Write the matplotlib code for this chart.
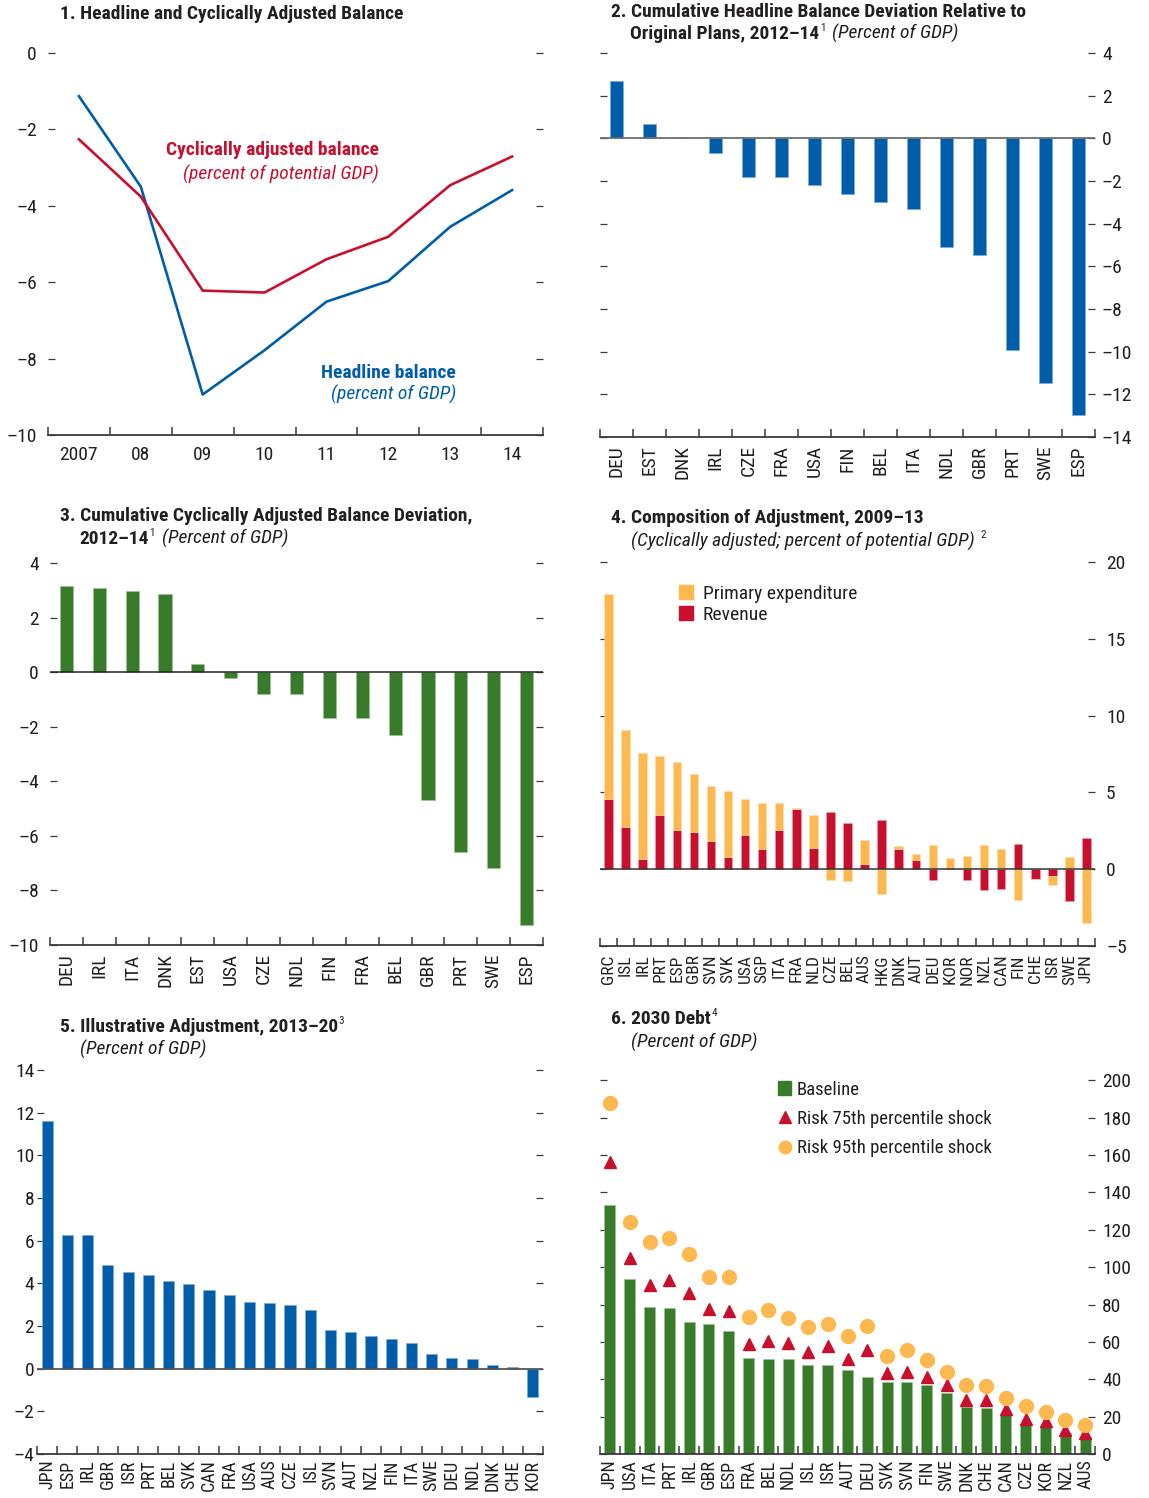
import matplotlib
matplotlib.use("Agg")
import matplotlib.pyplot as plt
import numpy as np
from matplotlib import font_manager
from matplotlib.patches import Patch
from matplotlib.lines import Line2D

# pick a narrow / condensed sans if one is installed
fonts = [(f.name, str(f.stretch)) for f in font_manager.fontManager.ttflist]
named = {n for n, s in fonts if 'Narrow' in n or 'Condensed' in n}
stretched = {n for n, s in fonts if 'condensed' in s}
family, stretch, scale = 'Liberation Sans', 'normal', 0.86
for pref in ['Liberation Sans Narrow', 'Roboto Condensed', 'Noto Sans Condensed',
             'Open Sans Condensed', 'DejaVu Sans Condensed']:
    if pref in named:
        family, scale = pref, 1.0
        break
else:
    for pref in ['Roboto', 'Noto Sans', 'Open Sans', 'DejaVu Sans']:
        if pref in stretched:
            family, stretch, scale = pref, 'condensed', 1.0
            break
    else:
        if named:
            family, scale = sorted(named)[0], 1.0

plt.rcParams['font.family'] = [family, 'DejaVu Sans']
plt.rcParams['font.stretch'] = stretch

TEXT = '#231F20'
BLUE = '#005DAA'
GREEN = '#387C2B'
RED = '#C8102E'
ORANGE = '#FDB94F'

# --- Panel 1: headline and cyclically adjusted balance ---
years = ['2007', '08', '09', '10', '11', '12', '13', '14']
headline = [-1.13, -3.50, -8.94, -7.78, -6.51, -5.97, -4.55, -3.59]
cyc_adj = [-2.26, -3.76, -6.22, -6.27, -5.40, -4.81, -3.46, -2.71]

# --- Panel 2: cumulative headline balance deviation ---
p2_countries = ['DEU', 'EST', 'DNK', 'IRL', 'CZE', 'FRA', 'USA', 'FIN', 'BEL',
                'ITA', 'NDL', 'GBR', 'PRT', 'SWE', 'ESP']
p2_values = [2.69, 0.67, 0.0, -0.70, -1.80, -1.80, -2.20, -2.59, -3.00,
             -3.31, -5.10, -5.49, -9.90, -11.49, -12.95]

# --- Panel 3: cumulative cyclically adjusted balance deviation ---
p3_countries = ['DEU', 'IRL', 'ITA', 'DNK', 'EST', 'USA', 'CZE', 'NDL', 'FIN',
                'FRA', 'BEL', 'GBR', 'PRT', 'SWE', 'ESP']
p3_values = [3.17, 3.09, 2.99, 2.88, 0.29, -0.22, -0.79, -0.79, -1.69,
             -1.69, -2.29, -4.69, -6.58, -7.17, -9.28]

# --- Panel 4: composition of adjustment ---
p4_countries = ['GRC', 'ISL', 'IRL', 'PRT', 'ESP', 'GBR', 'SVN', 'SVK', 'USA',
                'SGP', 'ITA', 'FRA', 'NLD', 'CZE', 'BEL', 'AUS', 'HKG', 'DNK',
                'AUT', 'DEU', 'KOR', 'NOR', 'NZL', 'CAN', 'FIN', 'CHE', 'ISR',
                'SWE', 'JPN']
p4_revenue = [4.59, 2.73, 0.67, 3.55, 2.58, 2.45, 1.82, 0.78, 2.23,
              1.32, 2.58, 3.95, 1.41, 3.70, 3.00, 0.32, 3.18, 1.34,
              0.63, -0.71, 0.11, -0.69, -1.36, -1.26, 1.65, -0.61, -0.45,
              -2.06, 2.01]
p4_expenditure = [13.30, 6.34, 6.88, 3.85, 4.37, 3.78, 3.61, 4.31, 2.34,
                  3.01, 1.71, 0.05, 2.14, -0.71, -0.80, 1.60, -1.62, 0.20,
                  0.37, 1.56, 0.63, 0.89, 1.56, 1.30, -1.99, -0.05, -0.59,
                  0.80, -3.53]

# --- Panel 5: illustrative adjustment ---
p5_countries = ['JPN', 'ESP', 'IRL', 'GBR', 'ISR', 'PRT', 'BEL', 'SVK', 'CAN',
                'FRA', 'USA', 'AUS', 'CZE', 'ISL', 'SVN', 'AUT', 'NZL', 'FIN',
                'ITA', 'SWE', 'DEU', 'NDL', 'DNK', 'CHE', 'KOR']
p5_values = [11.59, 6.28, 6.28, 4.88, 4.54, 4.39, 4.12, 3.97, 3.69,
             3.45, 3.11, 3.08, 2.97, 2.77, 1.80, 1.74, 1.51, 1.38,
             1.18, 0.68, 0.50, 0.47, 0.16, 0.08, -1.32]

# --- Panel 6: 2030 debt ---
p6_countries = ['JPN', 'USA', 'ITA', 'PRT', 'IRL', 'GBR', 'ESP', 'FRA', 'BEL',
                'NDL', 'ISL', 'ISR', 'AUT', 'DEU', 'SVK', 'SVN', 'FIN', 'SWE',
                'DNK', 'CHE', 'CAN', 'CZE', 'KOR', 'NZL', 'AUS']
p6_baseline = [133.2, 93.6, 78.8, 77.9, 70.7, 69.8, 65.9, 51.4, 51.1,
               51.1, 47.9, 47.5, 45.2, 41.3, 38.4, 38.4, 37.0, 32.7,
               25.2, 24.6, 21.1, 16.1, 15.2, 11.3, 9.1]
p6_risk75 = [156.3, 104.8, 90.7, 93.0, 86.3, 77.7, 76.4, 59.1, 60.5,
             59.5, 54.6, 57.7, 50.9, 55.5, 43.4, 44.1, 41.1, 36.8,
             29.1, 29.1, 24.1, 18.8, 17.5, 13.0, 11.3]
p6_risk95 = [187.9, 124.3, 113.6, 115.4, 107.3, 94.6, 94.8, 73.4, 77.0,
             73.0, 68.2, 69.6, 62.9, 68.4, 52.7, 55.5, 50.5, 43.9,
             36.8, 36.4, 30.2, 25.9, 22.5, 18.0, 15.4]

W, H = 1149, 1498
fig = plt.figure(figsize=(W / 100, H / 100), dpi=100)


def fs(size):
    return size * scale


def add_axes(left, right, top, bottom):
    return fig.add_axes([left / W, 1 - bottom / H, (right - left) / W, (bottom - top) / H])


def fmt(v):
    # negative numbers typeset with an en dash, as in the source
    return str(v).replace('-', '\u2013')


def style(ax, ylim, yticks, side='left', ylabelsize=14, ypad=8):
    ax.set_ylim(*ylim)
    ax.set_yticks(yticks)
    ax.set_yticklabels([fmt(v) for v in yticks])
    for s in ['top', 'left', 'right']:
        ax.spines[s].set_visible(False)
    ax.spines['bottom'].set_color('#3a3a3a')
    ax.spines['bottom'].set_linewidth(1.3)
    ax.tick_params(axis='y', direction='in', length=5, width=0.9, color='#3a3a3a',
                   left=True, right=True, labelleft=(side == 'left'),
                   labelright=(side == 'right'), labelsize=fs(ylabelsize),
                   labelcolor=TEXT, pad=ypad)
    ax.patch.set_alpha(0)


def cat_axis(ax, labels, size, rotation=90, pad=6):
    n = len(labels)
    ax.set_xlim(-0.5, n - 0.5)
    ax.set_xticks(np.arange(n + 1) - 0.5)
    ax.set_xticklabels([])
    ax.tick_params(axis='x', which='major', direction='in', length=6, width=1.1,
                   color='#3a3a3a')
    ax.set_xticks(np.arange(n), minor=True)
    ax.set_xticklabels(labels, minor=True, rotation=rotation, fontsize=fs(size), color=TEXT)
    ax.tick_params(axis='x', which='minor', length=0, pad=pad)


def rich(ax, x, y, parts):
    """Chain text pieces left to right from figure pixel (x, y); base pieces share a baseline."""
    base = prev = None
    for s, kw in parts:
        kw = dict(kw)
        rise = kw.pop('rise', 0)
        gap = kw.pop('gap', 0)
        if prev is None:
            prev = fig.text(x / W, 1 - y / H, s, va='center', ha='left', color=TEXT, **kw)
        else:
            prev = ax.annotate(s, xy=(1, 0), xycoords=(prev, base), xytext=(gap, rise),
                               textcoords='offset points', va='bottom', ha='left',
                               color=TEXT, annotation_clip=False, **kw)
        if rise == 0:
            base = prev


TS = 14
bold = dict(fontsize=fs(TS), fontweight='bold')
ital = dict(fontsize=fs(TS), fontstyle='italic')
sup = dict(fontsize=fs(8), rise=7.5, gap=0.5)

# Panel 1
ax1 = add_axes(48, 543, 53, 435)
x = np.arange(len(years))
ax1.plot(x, headline, color=BLUE, lw=1.9, clip_on=False)
ax1.plot(x, cyc_adj, color=RED, lw=1.9, clip_on=False)
style(ax1, (-10, 0), np.arange(-10, 1, 2), 'left')
cat_axis(ax1, years, 14, rotation=0, pad=8)
ax1.text(4.85, -2.54, 'Cyclically adjusted balance', color=RED, fontsize=fs(14),
         fontweight='bold', ha='right', va='center')
ax1.text(4.85, -3.19, '(percent of potential GDP)', color=RED, fontsize=fs(14),
         fontstyle='italic', ha='right', va='center')
ax1.text(6.09, -8.38, 'Headline balance', color=BLUE, fontsize=fs(14),
         fontweight='bold', ha='right', va='center')
ax1.text(6.09, -8.95, '(percent of GDP)', color=BLUE, fontsize=fs(14),
         fontstyle='italic', ha='right', va='center')
rich(ax1, 60, 14, [('1. Headline and Cyclically Adjusted Balance', bold)])

# Panel 2
ax2 = add_axes(600, 1095, 53, 437)
ax2.bar(np.arange(len(p2_values)), p2_values, width=0.4, color=BLUE,
        edgecolor='#7FA9D6', linewidth=0.5, zorder=2)
ax2.axhline(0, color='#6d6d6d', lw=1.3, zorder=3)
style(ax2, (-14, 4), np.arange(-14, 5, 2), 'right', ypad=5)
cat_axis(ax2, p2_countries, 14)
rich(ax2, 611, 12, [('2. Cumulative Headline Balance Deviation Relative to', bold)])
rich(ax2, 630, 34, [('Original Plans, 2012\u201314', bold), ('1', sup),
                    ('(Percent of GDP)', dict(ital, gap=5))])

# Panel 3
ax3 = add_axes(50, 543, 563, 945)
ax3.bar(np.arange(len(p3_values)), p3_values, width=0.4, color=GREEN,
        edgecolor='#9CC48F', linewidth=0.5, zorder=2)
ax3.axhline(0, color='#222222', lw=1.1, zorder=3)
style(ax3, (-10, 4), np.arange(-10, 5, 2), 'left')
cat_axis(ax3, p3_countries, 14)
rich(ax3, 60, 516, [('3. Cumulative Cyclically Adjusted Balance Deviation,', bold)])
rich(ax3, 79, 539, [('2012\u201314', bold), ('1', sup),
                    ('(Percent of GDP)', dict(ital, gap=5))])

# Panel 4
ax4 = add_axes(600, 1095, 562, 946)
rev = np.array(p4_revenue)
exp = np.array(p4_expenditure)
exp_bottom = np.where(np.sign(exp) == np.sign(rev), rev, 0.0)
x4 = np.arange(len(rev))
ax4.bar(x4, rev, width=0.5, color=RED, edgecolor='#E8A0A8', linewidth=0.4, zorder=2)
ax4.bar(x4, exp, bottom=exp_bottom, width=0.5, color=ORANGE, edgecolor='#FDDDA8',
        linewidth=0.4, zorder=2)
ax4.axhline(0, color='#333333', lw=1.1, zorder=3)
style(ax4, (-5, 20), np.arange(-5, 21, 5), 'right', ypad=8)
cat_axis(ax4, p4_countries, 12.5)
ax4.legend(handles=[Patch(color=ORANGE, label='Primary expenditure'),
                    Patch(color=RED, label='Revenue')],
           loc='upper left', bbox_to_anchor=(0.16, 0.94), frameon=False,
           fontsize=fs(14), handlelength=0.7, handleheight=0.7, handletextpad=0.5,
           labelspacing=0.15, borderpad=0, borderaxespad=0, labelcolor=TEXT)
rich(ax4, 611, 518, [('4. Composition of Adjustment, 2009\u201313', bold)])
rich(ax4, 631, 541, [('(Cyclically adjusted; percent of potential GDP)', ital),
                     ('2', dict(sup, gap=4))])

# Panel 5
ax5 = add_axes(37, 543, 1070, 1454)
ax5.bar(np.arange(len(p5_values)), p5_values, width=0.55, color=BLUE,
        edgecolor='#7FA9D6', linewidth=0.5, zorder=2)
ax5.axhline(0, color='#555555', lw=1.3, zorder=3)
style(ax5, (-4, 14), np.arange(-4, 15, 2), 'left', ypad=2)
cat_axis(ax5, p5_countries, 13, pad=4)
rich(ax5, 60, 1027, [('5. Illustrative Adjustment, 2013\u201320', bold), ('3', sup)])
rich(ax5, 80, 1049, [('(Percent of GDP)', ital)])

# Panel 6
ax6 = add_axes(600, 1095, 1071, 1454)
x6 = np.arange(len(p6_baseline))
ax6.bar(x6, p6_baseline, width=0.55, color=GREEN, edgecolor='#9CC48F',
        linewidth=0.5, zorder=2)
ax6.plot(x6, p6_risk75, ls='none', marker='^', ms=9, color=RED, zorder=4)
ax6.plot(x6, p6_risk95, ls='none', marker='o', ms=10, color=ORANGE, zorder=4)
style(ax6, (0, 205), np.arange(0, 201, 20), 'right', ypad=5)
cat_axis(ax6, p6_countries, 13, pad=4)
ax6.legend(handles=[Patch(color=GREEN, label='Baseline'),
                    Line2D([], [], ls='none', marker='^', ms=8, color=RED,
                           label='Risk 75th percentile shock'),
                    Line2D([], [], ls='none', marker='o', ms=9, color=ORANGE,
                           label='Risk 95th percentile shock')],
           loc='upper left', bbox_to_anchor=(0.36, 0.975), frameon=False,
           fontsize=fs(13.5), handlelength=0.7, handleheight=0.7, handletextpad=0.3,
           labelspacing=0.6, borderpad=0, borderaxespad=0, labelcolor=TEXT)
rich(ax6, 611, 1019, [('6. 2030 Debt', bold), ('4', sup)])
rich(ax6, 631, 1042, [('(Percent of GDP)', ital)])

fig.savefig('out.png', dpi=100, facecolor='white')
